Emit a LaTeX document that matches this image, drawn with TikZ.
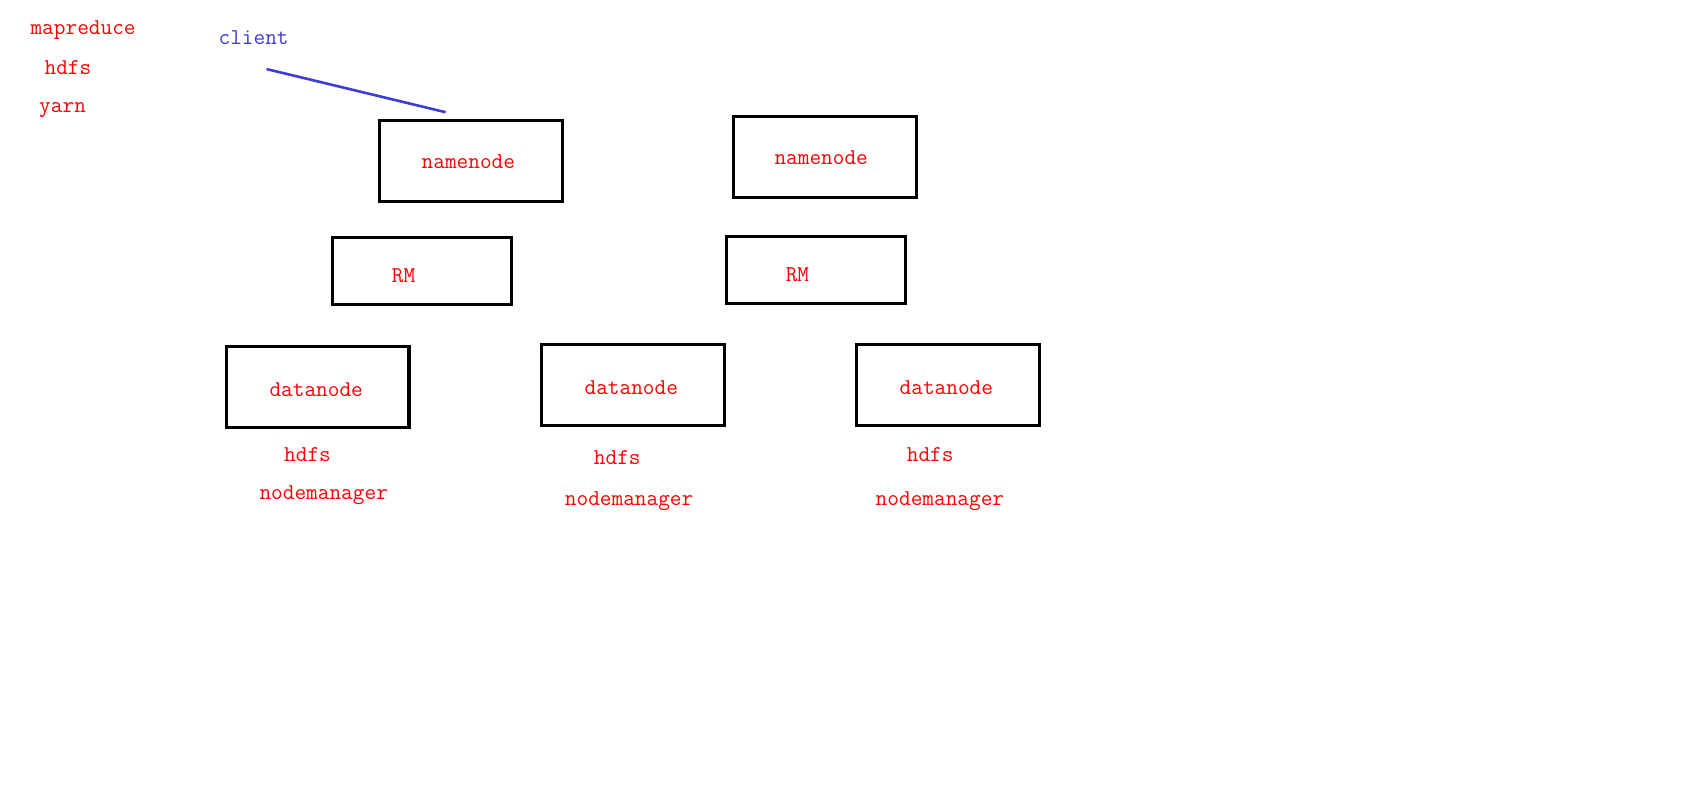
\documentclass[tikz,border=0pt]{standalone}
\usepackage{tikz}
\usetikzlibrary{positioning,calc}
\definecolor{lblred}{RGB}{255,0,0}
\definecolor{lblblue}{RGB}{60,60,215}

\begin{document}
\begin{tikzpicture}[x=1pt, y=-1pt,
    txt/.style={text=lblred, font=\fontsize{21}{25}\selectfont\ttfamily, inner sep=0pt,
                text height=16pt, text depth=2pt},
    bigbox/.style={draw, line width=2.8pt, minimum width=169pt, minimum height=75pt, inner sep=0pt},
    rmbox/.style={draw, line width=2.8pt, minimum width=166pt, minimum height=62pt, inner sep=0pt}]

  \useasboundingbox (0,0) rectangle (1567,748.8);

  % legend
  \node[txt] (mr) at (77,25) {mapreduce};
  \node[txt] (hd) at (63,62) {hdfs};
  \node[txt] (yn) at (58,97) {yarn};
  \node[txt, text=lblblue] (client) at (235,34) {client};

  % masters
  \node[bigbox, label={[txt, xshift=-2.5pt]center:namenode}] (nn1) at (436.5,149.5) {};
  \node[bigbox, label={[txt, xshift=-3.5pt]center:namenode}] (nn2) at (764.5,145.5) {};
  \node[rmbox, label={[txt, xshift=-17pt, yshift=-4pt]center:RM}] (rm1) at (391,251) {};
  \node[rmbox, label={[txt, xshift=-17pt, yshift=-4pt]center:RM}] (rm2) at (756,250) {};

  % workers
  \node[bigbox, label={[txt, xshift=-1.5pt, yshift=-2pt]center:datanode}] (dn1) at (294.5,358.5) {};
  \node[bigbox, label={[txt, xshift=-1.5pt, yshift=-2pt]center:datanode}] (dn2) at (586.5,356.5) {};
  \node[bigbox, label={[txt, xshift=-1.5pt, yshift=-2pt]center:datanode}] (dn3) at (878.5,356.5) {};

  \node[txt] (hd1) at (285,421) {hdfs};
  \node[txt] (nm1) at (300,456) {nodemanager};
  \node[txt] (hd2) at (572,423) {hdfs};
  \node[txt] (nm2) at (583,461) {nodemanager};
  \node[txt] (hd3) at (862,421) {hdfs};
  \node[txt] (nm3) at (871,461) {nodemanager};

  \coordinate (cl) at (247,64);
  \coordinate (cn) at (413,104);
  \draw[lblblue, line width=2.4pt] (cl) -- (cn);

\end{tikzpicture}
\end{document}
